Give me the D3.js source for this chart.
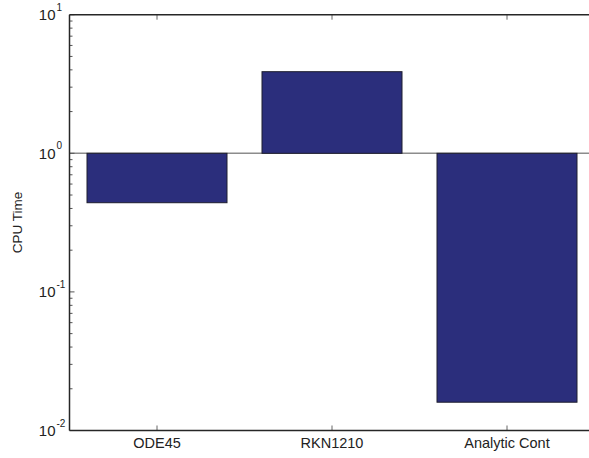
<!DOCTYPE html>
<html>
<head>
<meta charset="utf-8">
<script src="https://cdn.jsdelivr.net/npm/d3@7"></script>
<style>
  html, body { margin: 0; padding: 0; background: #fff; }
  svg { display: block; font-family: "Liberation Sans", Arial, sans-serif; }
</style>
</head>
<body>
<svg id="chart" width="589" height="458"></svg>
<script>
// Solver names and measured CPU time for each
const categories = ["ODE45", "RKN1210", "Analytic Cont"];
const cpuTime = [0.44, 3.88, 0.016];
const yTickExponents = [1, 0, -1, -2];
const yLabel = "CPU Time";

const svg = d3.select("#chart");
const margin = { left: 69.5, top: 14.7, bottom: 430.5 };

// Bar positions: categories at 1..n, axis spanning 0.5 .. n+0.5
const x = d3.scaleLinear().domain([0.5, categories.length + 0.5]).range([margin.left, margin.left + 175 * categories.length]);
const y = d3.scaleLog().domain([0.01, 10]).range([margin.bottom, margin.top]);
const barWidth = 0.8;

svg.append("defs").append("clipPath").attr("id", "plotClip")
  .append("rect").attr("x", margin.left).attr("y", margin.top)
  .attr("width", 589 - margin.left).attr("height", margin.bottom - margin.top);

const plot = svg.append("g").attr("clip-path", "url(#plotClip)");

// Baseline at 10^0
plot.append("line")
  .attr("x1", margin.left).attr("x2", 600)
  .attr("y1", y(1)).attr("y2", y(1))
  .attr("stroke", "#8c8c8c").attr("stroke-width", 1.5);

// Bars grow from 1 toward the value
plot.selectAll("rect.bar").data(cpuTime).enter().append("rect")
  .attr("class", "bar")
  .attr("x", (d, i) => x(i + 1 - barWidth / 2))
  .attr("width", (d, i) => x(i + 1 + barWidth / 2) - x(i + 1 - barWidth / 2))
  .attr("y", d => Math.min(y(d), y(1)))
  .attr("height", d => Math.abs(y(d) - y(1)))
  .attr("fill", "#2b2e7c")
  .attr("stroke", "#1e1e2e")
  .attr("stroke-width", 1);

// Minor log ticks on the left axis
const minorVals = [];
for (let e = -2; e < 1; e++) for (let m = 2; m <= 9; m++) minorVals.push(m * Math.pow(10, e));
svg.selectAll("line.minor").data(minorVals).enter().append("line")
  .attr("x1", margin.left).attr("x2", margin.left + 3)
  .attr("y1", d => y(d)).attr("y2", d => y(d))
  .attr("stroke", "#555").attr("stroke-width", 1);

// Major y ticks
svg.selectAll("line.major").data(yTickExponents).enter().append("line")
  .attr("x1", margin.left).attr("x2", margin.left + 5)
  .attr("y1", d => y(Math.pow(10, d))).attr("y2", d => y(Math.pow(10, d)))
  .attr("stroke", "#555").attr("stroke-width", 1);

// x ticks, bottom and top
const xTicks = categories.map((c, i) => i + 1);
svg.selectAll("line.xb").data(xTicks).enter().append("line")
  .attr("x1", d => x(d)).attr("x2", d => x(d))
  .attr("y1", margin.bottom).attr("y2", margin.bottom - 5)
  .attr("stroke", "#666").attr("stroke-width", 1);
svg.selectAll("line.xt").data(xTicks).enter().append("line")
  .attr("x1", d => x(d)).attr("x2", d => x(d))
  .attr("y1", margin.top).attr("y2", margin.top + 5)
  .attr("stroke", "#666").attr("stroke-width", 1);

// Axis lines
svg.append("line").attr("x1", margin.left).attr("x2", margin.left)
  .attr("y1", margin.top).attr("y2", margin.bottom)
  .attr("stroke", "#262626").attr("stroke-width", 1.5);
svg.append("line").attr("x1", margin.left).attr("x2", 589)
  .attr("y1", margin.bottom).attr("y2", margin.bottom)
  .attr("stroke", "#262626").attr("stroke-width", 1.5);
svg.append("line").attr("x1", margin.left).attr("x2", 589)
  .attr("y1", margin.top).attr("y2", margin.top)
  .attr("stroke", "#262626").attr("stroke-width", 1.5);

// y tick labels as 10 with superscript exponent
const yl = svg.selectAll("g.ylab").data(yTickExponents).enter().append("g")
  .attr("transform", d => `translate(0,${y(Math.pow(10, d))})`);
yl.append("text")
  .attr("x", 55.5).attr("y", 5.5)
  .attr("text-anchor", "end")
  .attr("font-size", 15).attr("fill", "#222")
  .text("10");
yl.append("text")
  .attr("x", 56.5).attr("y", -4)
  .attr("font-size", 10).attr("fill", "#222")
  .text(d => d < 0 ? "-" + Math.abs(d) : String(d));

// x tick labels
svg.selectAll("text.xlab").data(categories).enter().append("text")
  .attr("x", (d, i) => x(i + 1)).attr("y", 447.5)
  .attr("text-anchor", "middle")
  .attr("font-size", 14.5).attr("fill", "#222")
  .text(d => d);

// y axis title
svg.append("text")
  .attr("transform", `translate(22,${(margin.top + margin.bottom) / 2}) rotate(-90)`)
  .attr("text-anchor", "middle")
  .attr("font-size", 13.5).attr("fill", "#222")
  .text(yLabel);
</script>
</body>
</html>
